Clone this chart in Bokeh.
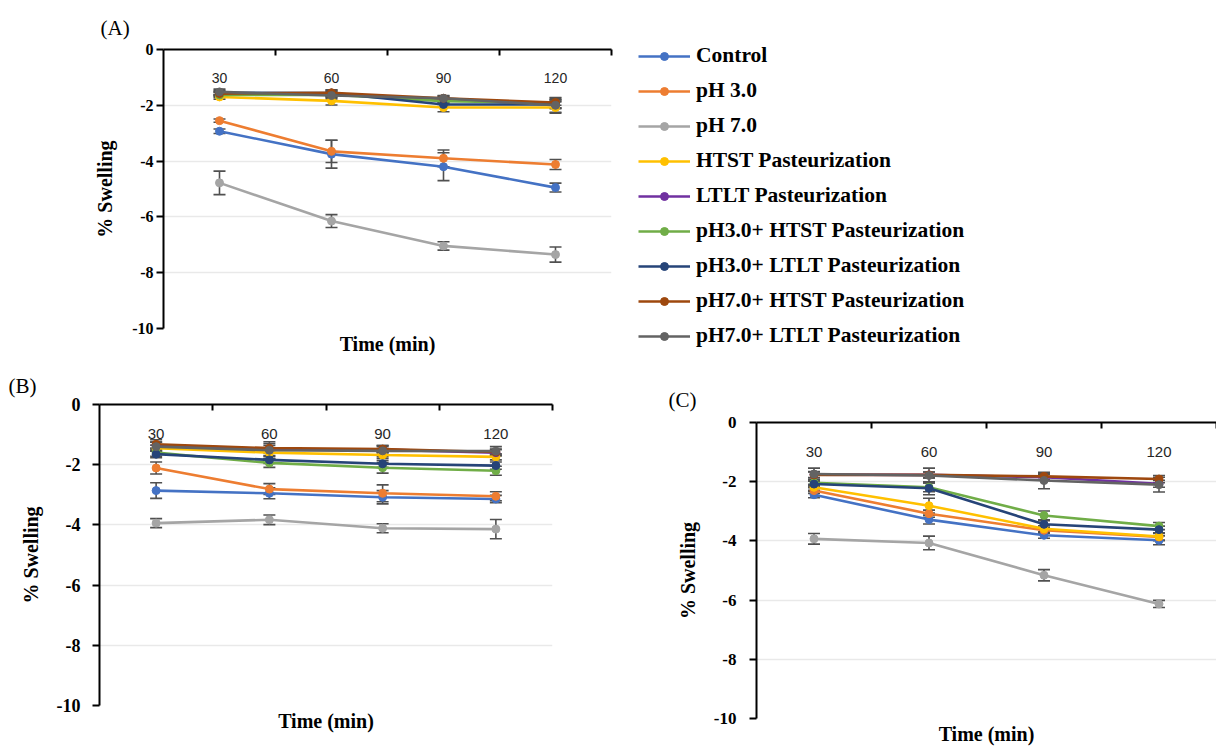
from bokeh.plotting import figure
from bokeh.models import (Range1d, FixedTicker, LinearAxis, Legend, LegendItem,
                          ColumnDataSource, Whisker, TeeHead, PrintfTickFormatter)
from bokeh.layouts import column, row
from bokeh.embed import file_html
from bokeh.resources import INLINE

times = [30, 60, 90, 120]
series = ["Control", "pH 3.0", "pH 7.0", "HTST Pasteurization", "LTLT Pasteurization",
          "pH3.0+ HTST Pasteurization", "pH3.0+ LTLT Pasteurization",
          "pH7.0+ HTST Pasteurization", "pH7.0+ LTLT Pasteurization"]
colors = ["#4472C4", "#ED7D31", "#A5A5A5", "#FFC000", "#7030A0",
          "#70AD47", "#264478", "#9E480E", "#636363"]
y_ticks = [-10, -8, -6, -4, -2, 0]

# Panel (A)
mean_A = {
    "Control": [-2.93, -3.75, -4.20, -4.95],
    "pH 3.0": [-2.55, -3.65, -3.90, -4.12],
    "pH 7.0": [-4.78, -6.15, -7.04, -7.35],
    "HTST Pasteurization": [-1.70, -1.84, -2.08, -2.08],
    "LTLT Pasteurization": [-1.60, -1.58, -1.80, -1.95],
    "pH3.0+ HTST Pasteurization": [-1.63, -1.62, -1.85, -1.92],
    "pH3.0+ LTLT Pasteurization": [-1.55, -1.56, -1.97, -1.97],
    "pH7.0+ HTST Pasteurization": [-1.58, -1.55, -1.75, -1.90],
    "pH7.0+ LTLT Pasteurization": [-1.52, -1.65, -1.75, -2.00],
}
err_A = {
    "Control": [0.08, 0.50, 0.50, 0.16],
    "pH 3.0": [0.06, 0.40, 0.30, 0.18],
    "pH 7.0": [0.42, 0.23, 0.15, 0.27],
    "HTST Pasteurization": [0.08, 0.15, 0.15, 0.20],
    "LTLT Pasteurization": [0.08, 0.10, 0.10, 0.15],
    "pH3.0+ HTST Pasteurization": [0.08, 0.10, 0.12, 0.20],
    "pH3.0+ LTLT Pasteurization": [0.08, 0.12, 0.10, 0.12],
    "pH7.0+ HTST Pasteurization": [0.08, 0.10, 0.08, 0.10],
    "pH7.0+ LTLT Pasteurization": [0.10, 0.12, 0.10, 0.25],
}

# Panel (B)
mean_B = {
    "Control": [-2.86, -2.95, -3.08, -3.14],
    "pH 3.0": [-2.11, -2.81, -2.95, -3.05],
    "pH 7.0": [-3.94, -3.83, -4.11, -4.14],
    "HTST Pasteurization": [-1.45, -1.60, -1.68, -1.74],
    "LTLT Pasteurization": [-1.35, -1.48, -1.50, -1.60],
    "pH3.0+ HTST Pasteurization": [-1.60, -1.94, -2.10, -2.20],
    "pH3.0+ LTLT Pasteurization": [-1.65, -1.84, -1.97, -2.03],
    "pH7.0+ HTST Pasteurization": [-1.32, -1.45, -1.48, -1.58],
    "pH7.0+ LTLT Pasteurization": [-1.40, -1.52, -1.54, -1.55],
}
err_B = {
    "Control": [0.26, 0.18, 0.22, 0.12],
    "pH 3.0": [0.20, 0.18, 0.28, 0.15],
    "pH 7.0": [0.15, 0.16, 0.15, 0.32],
    "HTST Pasteurization": [0.10, 0.10, 0.10, 0.10],
    "LTLT Pasteurization": [0.10, 0.12, 0.10, 0.10],
    "pH3.0+ HTST Pasteurization": [0.12, 0.15, 0.18, 0.15],
    "pH3.0+ LTLT Pasteurization": [0.12, 0.12, 0.12, 0.12],
    "pH7.0+ HTST Pasteurization": [0.15, 0.15, 0.12, 0.10],
    "pH7.0+ LTLT Pasteurization": [0.15, 0.28, 0.18, 0.15],
}

# Panel (C)
mean_C = {
    "Control": [-2.44, -3.28, -3.81, -3.98],
    "pH 3.0": [-2.30, -3.08, -3.64, -3.87],
    "pH 7.0": [-3.93, -4.07, -5.16, -6.13],
    "HTST Pasteurization": [-2.19, -2.81, -3.59, -3.85],
    "LTLT Pasteurization": [-1.76, -1.77, -1.85, -2.07],
    "pH3.0+ HTST Pasteurization": [-2.04, -2.19, -3.14, -3.50],
    "pH3.0+ LTLT Pasteurization": [-2.08, -2.22, -3.44, -3.62],
    "pH7.0+ HTST Pasteurization": [-1.77, -1.77, -1.82, -1.91],
    "pH7.0+ LTLT Pasteurization": [-1.74, -1.79, -1.96, -2.10],
}
err_C = {
    "Control": [0.10, 0.15, 0.10, 0.15],
    "pH 3.0": [0.10, 0.12, 0.10, 0.12],
    "pH 7.0": [0.18, 0.23, 0.19, 0.12],
    "HTST Pasteurization": [0.10, 0.25, 0.10, 0.12],
    "LTLT Pasteurization": [0.10, 0.10, 0.10, 0.12],
    "pH3.0+ HTST Pasteurization": [0.10, 0.15, 0.15, 0.12],
    "pH3.0+ LTLT Pasteurization": [0.10, 0.22, 0.12, 0.12],
    "pH7.0+ HTST Pasteurization": [0.10, 0.10, 0.10, 0.12],
    "pH7.0+ LTLT Pasteurization": [0.20, 0.25, 0.28, 0.25],
}

SERIF = "Liberation Serif"
SANS = "Liberation Sans"
ERR_COLOR = "#505050"
LINE_W = 2.6
MARK_SIZE = 8


def make_panel(tag, means, errs, width, height, bl, br, bt, bb,
               tick_fs, cat_fs, title_fs, tick_standoff, ylab_standoff,
               cat_standoff, tag_offset, tag_standoff):
    p = figure(width=width, height=height, x_range=Range1d(15, 135),
               y_range=Range1d(-10, 0), x_axis_location="above",
               output_backend="svg", toolbar_location=None,
               min_border_left=bl, min_border_right=br,
               min_border_top=bt, min_border_bottom=bb)
    p.outline_line_color = None
    p.background_fill_color = "white"
    p.border_fill_color = "white"
    p.xgrid.visible = False
    p.ygrid.ticker = FixedTicker(ticks=y_ticks)
    p.ygrid.grid_line_color = "#e9e9e9"
    p.ygrid.grid_line_width = 1.5

    # panel tag as the plot title
    p.title.text = tag
    p.title.align = "left"
    p.title.offset = tag_offset
    p.title.standoff = tag_standoff
    p.title.text_font = SERIF
    p.title.text_font_style = "normal"
    p.title.text_font_size = "21px"
    p.title.text_color = "black"

    # top category-like axis at y = 0
    xa = p.xaxis[0]
    xa.ticker = FixedTicker(ticks=times, minor_ticks=[45, 75, 105, 135])
    xa.axis_line_color = "black"
    xa.axis_line_width = 2
    xa.major_tick_line_color = None
    xa.major_tick_in = 0
    xa.major_tick_out = 0
    xa.minor_tick_line_color = "black"
    xa.minor_tick_line_width = 2
    xa.minor_tick_in = 6
    xa.minor_tick_out = 0
    xa.major_label_standoff = cat_standoff
    xa.major_label_text_font = SANS
    xa.major_label_text_font_size = f"{cat_fs}px"
    xa.major_label_text_color = "#262626"

    # bottom axis only for the title
    xb = LinearAxis(ticker=FixedTicker(ticks=[]), axis_label="Time (min)",
                    axis_line_color=None, major_tick_line_color=None,
                    minor_tick_line_color=None, axis_label_standoff=4,
                    axis_label_text_font=SERIF,
                    axis_label_text_font_style="bold",
                    axis_label_text_font_size=f"{title_fs}px",
                    axis_label_text_color="black")
    p.add_layout(xb, "below")

    ya = p.yaxis[0]
    ya.ticker = FixedTicker(ticks=y_ticks)
    ya.formatter = PrintfTickFormatter(format="%d")
    ya.axis_line_color = "black"
    ya.axis_line_width = 2
    ya.major_tick_line_color = "black"
    ya.major_tick_line_width = 2
    ya.major_tick_in = 0
    ya.major_tick_out = 7
    ya.minor_tick_line_color = None
    ya.major_label_standoff = tick_standoff
    ya.major_label_text_font = SERIF
    ya.major_label_text_font_style = "bold"
    ya.major_label_text_font_size = f"{tick_fs}px"
    ya.major_label_text_color = "black"
    ya.axis_label = "% Swelling"
    ya.axis_label_standoff = ylab_standoff
    ya.axis_label_text_font = SERIF
    ya.axis_label_text_font_style = "bold"
    ya.axis_label_text_font_size = f"{title_fs}px"
    ya.axis_label_text_color = "black"

    for name, col in zip(series, colors):
        m = means[name]
        e = errs[name]
        src = ColumnDataSource(dict(
            x=times, y=m,
            lo=[a - b for a, b in zip(m, e)],
            hi=[a + b for a, b in zip(m, e)]))
        w = Whisker(base="x", lower="lo", upper="hi", source=src,
                    line_color=ERR_COLOR, line_width=1.6,
                    upper_head=TeeHead(size=12, line_color=ERR_COLOR, line_width=1.6),
                    lower_head=TeeHead(size=12, line_color=ERR_COLOR, line_width=1.6))
        p.add_layout(w)
        p.line("x", "y", source=src, line_color=col, line_width=LINE_W)
        p.scatter("x", "y", source=src, size=MARK_SIZE, fill_color=col,
                  line_color=col, marker="circle")
    return p


pA = make_panel("(A)", mean_A, err_A, 620, 362, 163, 9, 49, 34,
                tick_fs=16, cat_fs=14, title_fs=20, tick_standoff=3,
                ylab_standoff=13, cat_standoff=-33,
                tag_offset=-63, tag_standoff=20)

# Legend panel: a frame-only figure holding the series of panel (A) with ranges
# that keep them out of view, so only the legend entries are visible.
pL = figure(width=596, height=362, x_range=Range1d(1000, 1001),
            y_range=Range1d(1000, 1001),
            output_backend="svg", toolbar_location=None, title=None,
            x_axis_location=None, y_axis_location=None,
            min_border_left=0, min_border_right=0, min_border_top=0,
            min_border_bottom=0)
pL.outline_line_color = None
pL.xgrid.visible = False
pL.ygrid.visible = False
pL.background_fill_color = "white"
pL.border_fill_color = "white"
items = []
for name, col in zip(series, colors):
    src = ColumnDataSource(dict(x=times, y=mean_A[name]))
    lr = pL.line("x", "y", source=src, line_color=col, line_width=LINE_W)
    sr = pL.scatter("x", "y", source=src, size=MARK_SIZE - 1, fill_color=col,
                    line_color=col, marker="circle")
    items.append(LegendItem(label=name, renderers=[lr, sr]))
legend = Legend(items=items, location=(18, 14), orientation="vertical",
                padding=0, margin=0, spacing=10, glyph_width=52, glyph_height=20,
                label_height=20, label_standoff=6, border_line_color=None,
                background_fill_alpha=0.0,
                label_text_font=SERIF, label_text_font_style="bold",
                label_text_font_size="21.5px", label_text_color="black")
pL.add_layout(legend, "center")

pB = make_panel("(B)", mean_B, err_B, 640, 385, 99, 88, 42, 42,
                tick_fs=18, cat_fs=15, title_fs=20, tick_standoff=12,
                ylab_standoff=12, cat_standoff=-34,
                tag_offset=-91, tag_standoff=14)
pC = make_panel("(C)", mean_C, err_C, 576, 385, 116, 0, 60, 28,
                tick_fs=17, cat_fs=15, title_fs=20, tick_standoff=13,
                ylab_standoff=12, cat_standoff=-34,
                tag_offset=-88, tag_standoff=21)

layout = column(row(column(pA), column(pL)), row(column(pB), column(pC)), spacing=0)
open("out.html", "w").write(file_html(layout, INLINE))
